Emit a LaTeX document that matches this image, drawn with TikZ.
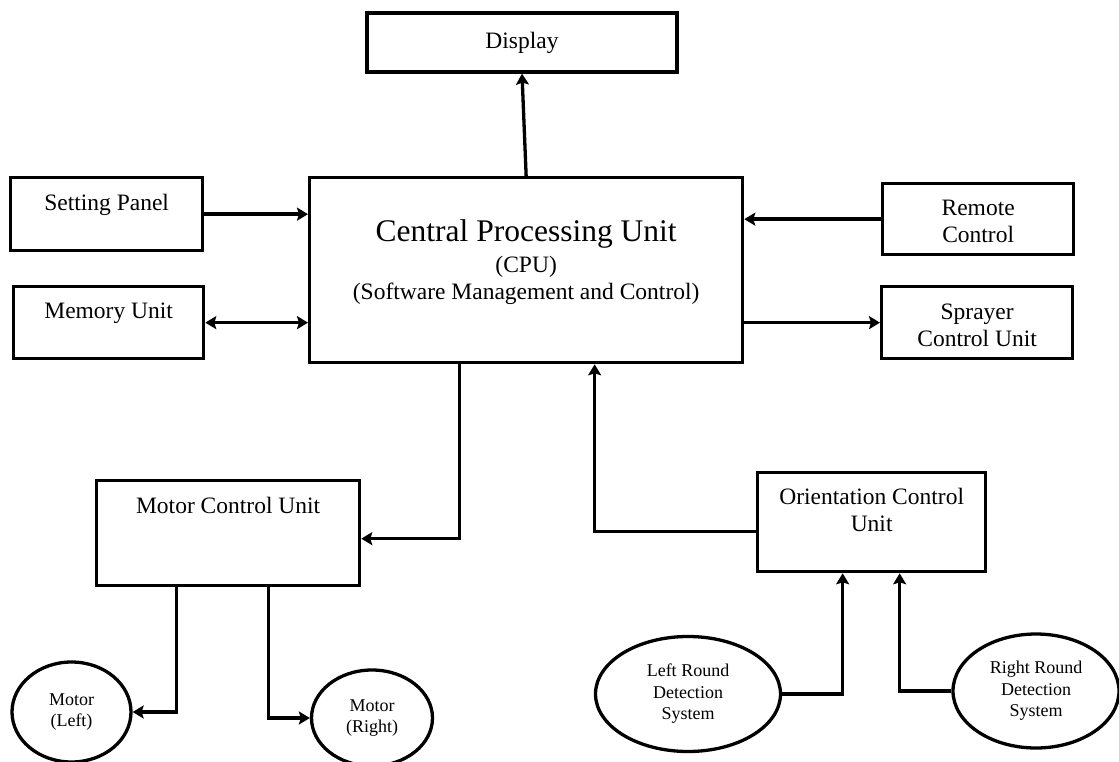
\documentclass[tikz,border=0pt]{standalone}
\usepackage{fontspec}
\setmainfont{Liberation Serif}
\usetikzlibrary{arrows.meta,shapes.geometric}

\begin{document}
\begin{tikzpicture}[x=1pt,y=-1pt,line width=3.3pt,>={Stealth[length=11pt,width=13pt,inset=2pt]},
  main node/.style={draw,align=center,inner sep=0pt,anchor=north west,text height=32pt,text depth=40pt,font=\fontsize{23.5}{27}\selectfont},
  round node/.style={draw,ellipse,align=center,inner sep=0pt,font=\fontsize{18}{21.5}\selectfont}]
\useasboundingbox (0,0) rectangle (1119,762);

\node[main node,anchor=center,text height=,text depth=,minimum width=310pt,minimum height=59pt] (1) at (522,42.5) {Display};
\node[main node,minimum width=433pt,text height=122pt,text depth=63pt] (2) at (308,176)
  {{\fontsize{31.5}{31}\selectfont Central Processing Unit}\\[4pt] (CPU)\\ (Software Management and Control)};
\node[main node,minimum width=192pt,text height=33pt,text depth=40pt] (3) at (9,176) {Setting Panel};
\node[main node,minimum width=190pt] (4) at (12,285) {Memory Unit};
\node[main node,minimum width=191pt,text height=59pt,text depth=12pt] (5) at (881,182) {Remote\\ Control};
\node[main node,minimum width=191pt,text height=60pt,text depth=12pt] (6) at (880,285) {Sprayer\\ Control Unit};
\node[main node,minimum width=263pt,text height=33pt,text depth=72pt] (7) at (95,479) {Motor Control Unit};
\node[main node,minimum width=228pt,text height=59pt,text depth=40pt] (8) at (756,471) {Orientation Control\\ Unit};

\node[round node,minimum width=119pt,minimum height=100pt] (9) at (71.5,712) {Motor\\ (Left)};
\node[round node,minimum width=121pt,minimum height=96pt] (10) at (372,718) {Motor\\ (Right)};
\node[round node,minimum width=185pt,minimum height=115pt] (11) at (688,694) {Left Round\\ Detection\\ System};
\node[round node,minimum width=166pt,minimum height=114pt] (12) at (1036,691) {Right Round\\ Detection\\ System};

% links to the CPU
\draw[->] (2.north) -- (1.south);
\draw[->] (3.east) -- (3.east -| 2.west);
\draw[<->] (4.east) -- (4.east -| 2.west);
\draw[->] (5.west) -- (5.west -| 2.east);
\draw[->] (6.west -| 2.east) -- (6.west);
\draw[->] ([xshift=-66.5pt]2.south) |- ([yshift=-5.5pt]7.east);
\draw[->] ([yshift=-9.5pt]8.west) -| ([xshift=68.5pt]2.south);

% motors and sensors
\draw[->] ([xshift=-51.5pt]7.south) |- (9.east);
\draw[->] ([xshift=40.5pt]7.south) |- (10.west);
\draw[->] (11.east) -| ([xshift=-29pt]8.south);
\draw[->] (12.west) -| ([xshift=28pt]8.south);
\end{tikzpicture}
\end{document}
